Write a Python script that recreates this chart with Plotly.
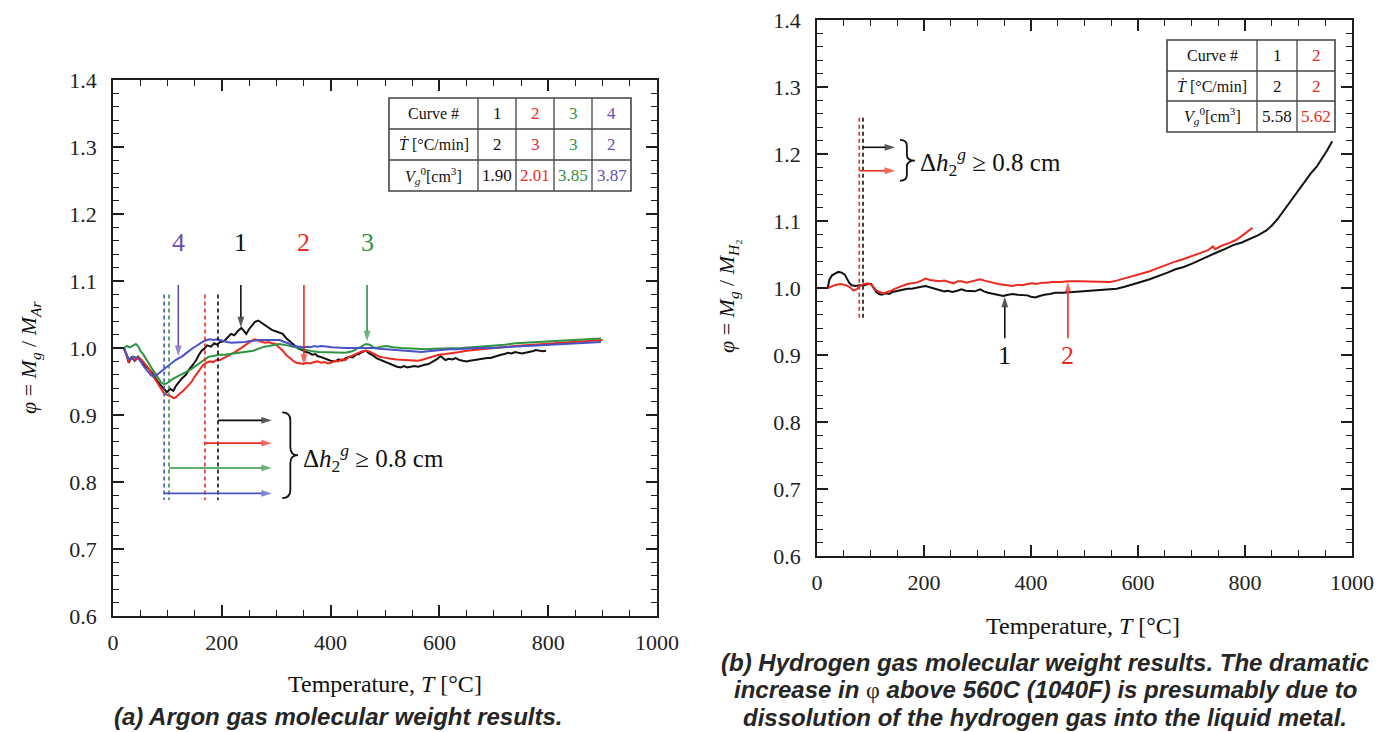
import plotly.graph_objects as go

# ---------------- data ----------------
# (a) Argon: temperature [°C] and molecular weight ratio phi for curves 1-4
ar1_T = [20, 24, 29, 34, 40, 46, 52, 58, 64, 71, 77, 83, 89, 94, 99, 105, 111, 116, 121, 127, 134, 140, 147,
         153, 158, 163, 168, 173, 180, 186, 191, 197, 204, 210, 217, 223, 229, 236, 241, 245, 250, 256, 261,
         267, 274, 280, 286, 292, 299, 305, 312, 318, 325, 331, 336, 341, 348, 354, 360, 366, 372, 376, 384,
         392, 400, 408, 415, 421, 428, 435, 441, 446, 452, 458, 465, 471, 478, 484, 490, 497, 503, 510, 516,
         522, 529, 535, 541, 548, 554, 561, 567, 573, 580, 586, 592, 597, 602, 606, 611, 617, 624, 630, 637,
         643, 650, 656, 663, 669, 675, 682, 688, 694, 701, 707, 713, 720, 726, 733, 739, 745, 752, 758, 765,
         771, 777, 784, 790, 796]
ar1_phi = [1.000, 0.992, 0.978, 0.986, 0.981, 0.987, 0.979, 0.975, 0.970, 0.964, 0.956, 0.949, 0.943, 0.938,
           0.934, 0.939, 0.936, 0.944, 0.949, 0.955, 0.960, 0.968, 0.975, 0.982, 0.990, 0.996, 0.999, 1.004,
           1.002, 1.007, 1.005, 1.009, 1.010, 1.015, 1.021, 1.019, 1.025, 1.030, 1.025, 1.021, 1.028, 1.034,
           1.039, 1.041, 1.037, 1.034, 1.030, 1.027, 1.025, 1.023, 1.021, 1.015, 1.010, 1.006, 1.002, 0.999,
           0.997, 0.994, 0.993, 0.990, 0.991, 0.988, 0.986, 0.983, 0.981, 0.980, 0.983, 0.981, 0.985, 0.987,
           0.986, 0.990, 0.991, 0.994, 0.996, 0.992, 0.989, 0.985, 0.983, 0.980, 0.978, 0.976, 0.974, 0.972,
           0.971, 0.973, 0.971, 0.972, 0.973, 0.972, 0.974, 0.975, 0.976, 0.979, 0.981, 0.984, 0.988, 0.985,
           0.982, 0.984, 0.983, 0.985, 0.982, 0.981, 0.980, 0.981, 0.982, 0.982, 0.983, 0.984, 0.985, 0.985,
           0.987, 0.989, 0.990, 0.991, 0.993, 0.992, 0.994, 0.993, 0.992, 0.993, 0.994, 0.995, 0.997, 0.996,
           0.995, 0.996]

ar2_T = [20, 24, 29, 35, 41, 47, 52, 58, 65, 71, 77, 83, 88, 93, 99, 106, 111, 115, 120, 125, 130, 136, 144,
         150, 156, 161, 166, 172, 178, 184, 190, 197, 204, 210, 217, 224, 232, 240, 249, 255, 261, 267, 274,
         280, 286, 292, 299, 305, 312, 318, 325, 331, 337, 344, 350, 356, 363, 369, 376, 382, 389, 395, 401,
         408, 414, 421, 427, 433, 440, 446, 452, 458, 465, 471, 478, 484, 490, 497, 503, 510, 522, 535, 548,
         560, 567, 580, 592, 599, 611, 624, 637, 650, 663, 675, 688, 701, 720, 739, 758, 777, 796, 815, 835,
         854, 873, 891, 900]
ar2_phi = [1.000, 0.990, 0.980, 0.985, 0.982, 0.986, 0.983, 0.977, 0.970, 0.962, 0.954, 0.946, 0.940, 0.933,
           0.930, 0.928, 0.925, 0.926, 0.930, 0.933, 0.937, 0.942, 0.949, 0.957, 0.964, 0.970, 0.975, 0.978,
           0.980, 0.979, 0.982, 0.982, 0.985, 0.988, 0.990, 0.994, 0.998, 1.003, 1.008, 1.011, 1.013, 1.011,
           1.009, 1.008, 1.009, 1.007, 1.006, 1.001, 0.996, 0.990, 0.985, 0.981, 0.978, 0.977, 0.976, 0.978,
           0.977, 0.979, 0.980, 0.978, 0.979, 0.977, 0.978, 0.981, 0.980, 0.983, 0.982, 0.986, 0.989, 0.991,
           0.993, 0.995, 0.996, 0.995, 0.992, 0.990, 0.987, 0.986, 0.985, 0.984, 0.983, 0.982, 0.982, 0.981,
           0.982, 0.985, 0.988, 0.990, 0.991, 0.992, 0.994, 0.996, 0.997, 0.998, 1.000, 1.001, 1.002, 1.003,
           1.004, 1.005, 1.006, 1.007, 1.008, 1.009, 1.010, 1.011, 1.012]

ar3_T = [20, 26, 31, 37, 42, 46, 51, 56, 61, 66, 71, 77, 83, 88, 93, 98, 104, 110, 117, 125, 134, 143, 152,
         160, 168, 176, 185, 195, 205, 215, 225, 236, 247, 258, 268, 278, 287, 296, 305, 314, 324, 334, 345,
         356, 367, 378, 390, 402, 414, 427, 440, 450, 458, 465, 472, 478, 484, 492, 503, 515, 530, 545, 560,
         575, 590, 605, 620, 640, 660, 680, 700, 720, 740, 760, 780, 800, 822, 845, 870, 897]
ar3_phi = [1.000, 1.003, 1.001, 1.004, 1.006, 1.003, 0.995, 0.990, 0.984, 0.977, 0.970, 0.962, 0.954, 0.949,
           0.946, 0.947, 0.950, 0.954, 0.957, 0.960, 0.964, 0.968, 0.973, 0.978, 0.983, 0.987, 0.988, 0.990,
           0.990, 0.991, 0.992, 0.993, 0.994, 0.996, 0.999, 1.002, 1.003, 1.005, 1.006, 1.005, 1.003, 1.001,
           0.999, 0.997, 0.995, 0.994, 0.994, 0.993, 0.993, 0.993, 0.995, 0.999, 1.003, 1.006, 1.005, 1.001,
           1.000, 1.002, 1.003, 1.001, 1.000, 0.999, 0.998, 0.998, 0.999, 0.999, 1.000, 1.000, 1.001, 1.002,
           1.003, 1.005, 1.007, 1.008, 1.009, 1.010, 1.011, 1.012, 1.013, 1.014]

ar4_T = [20, 25, 31, 37, 45, 51, 57, 63, 69, 74, 79, 84, 90, 96, 102, 108, 115, 121, 128, 134, 140, 147, 153,
         160, 166, 172, 178, 185, 191, 197, 204, 210, 217, 223, 230, 236, 243, 249, 256, 262, 268, 275, 281,
         287, 293, 299, 306, 312, 319, 325, 331, 338, 344, 350, 357, 363, 370, 376, 383, 389, 396, 402, 414,
         427, 440, 452, 465, 478, 490, 503, 516, 529, 541, 554, 567, 580, 592, 605, 618, 630, 650, 670, 694,
         720, 745, 770, 796, 822, 848, 873, 897]
ar4_phi = [1.000, 0.990, 0.982, 0.987, 0.985, 0.980, 0.972, 0.966, 0.960, 0.957, 0.959, 0.962, 0.966, 0.970,
           0.974, 0.978, 0.982, 0.985, 0.988, 0.992, 0.996, 1.000, 1.003, 1.007, 1.010, 1.012, 1.013, 1.012,
           1.013, 1.012, 1.010, 1.009, 1.008, 1.008, 1.009, 1.008, 1.009, 1.010, 1.010, 1.011, 1.012, 1.012,
           1.013, 1.013, 1.012, 1.013, 1.012, 1.010, 1.008, 1.006, 1.003, 1.002, 1.001, 1.001, 1.002, 1.001,
           1.003, 1.002, 1.003, 1.003, 1.002, 1.001, 1.000, 1.000, 1.000, 1.000, 1.001, 1.000, 0.999, 0.998,
           0.997, 0.996, 0.995, 0.995, 0.994, 0.995, 0.996, 0.997, 0.998, 0.998, 0.999, 1.000, 1.000, 1.001,
           1.003, 1.004, 1.005, 1.006, 1.007, 1.008, 1.009]

# (b) Hydrogen: curves 1-2
h1_T = [20, 23, 28, 34, 40, 46, 52, 56, 60, 65, 72, 80, 88, 95, 101, 106, 111, 116, 121, 128, 135, 141, 148,
        155, 162, 169, 177, 186, 195, 203, 212, 220, 230, 238, 245, 253, 262, 270, 278, 286, 295, 305, 312,
        320, 330, 339, 348, 357, 366, 375, 384, 393, 400, 408, 416, 425, 435, 445, 460, 475, 494, 510, 530,
        548, 560, 575, 590, 605, 622, 640, 655, 670, 684, 700, 716, 732, 747, 762, 778, 794, 809, 825, 840,
        850, 861, 871, 881, 892, 903, 913, 923, 934, 944, 954, 963]
h1_phi = [1.000, 1.012, 1.019, 1.022, 1.024, 1.023, 1.020, 1.014, 1.008, 1.004, 1.003, 1.004, 1.004, 1.006,
          1.006, 1.000, 0.994, 0.991, 0.990, 0.992, 0.991, 0.994, 0.995, 0.996, 0.997, 0.999, 0.999, 1.001,
          1.002, 1.003, 1.001, 0.999, 0.997, 0.995, 0.996, 0.994, 0.996, 0.998, 0.996, 0.996, 0.995, 0.998,
          0.995, 0.993, 0.991, 0.990, 0.988, 0.990, 0.991, 0.990, 0.989, 0.989, 0.987, 0.986, 0.988, 0.990,
          0.991, 0.993, 0.993, 0.994, 0.995, 0.996, 0.997, 0.998, 0.999, 1.002, 1.005, 1.009, 1.013, 1.018,
          1.023, 1.028, 1.031, 1.036, 1.042, 1.048, 1.053, 1.058, 1.064, 1.068, 1.073, 1.079, 1.086, 1.093,
          1.103, 1.114, 1.125, 1.137, 1.148, 1.160, 1.171, 1.181, 1.193, 1.206, 1.219]

h2_T = [20, 28, 36, 45, 55, 62, 68, 74, 80, 88, 96, 103, 110, 117, 124, 131, 139, 146, 153, 161, 169, 177,
        186, 195, 203, 211, 220, 229, 238, 247, 255, 263, 270, 279, 288, 297, 305, 313, 322, 331, 339, 348,
        357, 366, 375, 384, 393, 402, 410, 420, 430, 440, 455, 470, 490, 510, 530, 548, 560, 573, 590, 605,
        622, 638, 653, 668, 684, 700, 716, 730, 736, 740, 744, 756, 770, 784, 798, 806, 814]
h2_phi = [1.000, 1.003, 1.005, 1.006, 1.004, 1.001, 0.996, 0.998, 1.003, 1.006, 1.007, 1.004, 0.997, 0.994,
          0.992, 0.994, 0.996, 0.999, 1.001, 1.004, 1.006, 1.007, 1.008, 1.011, 1.014, 1.012, 1.011, 1.010,
          1.011, 1.009, 1.007, 1.010, 1.010, 1.008, 1.010, 1.011, 1.013, 1.011, 1.009, 1.007, 1.006, 1.005,
          1.004, 1.003, 1.005, 1.004, 1.006, 1.007, 1.006, 1.008, 1.008, 1.009, 1.009, 1.010, 1.010, 1.010,
          1.009, 1.009, 1.011, 1.014, 1.017, 1.021, 1.025, 1.030, 1.035, 1.039, 1.043, 1.047, 1.052, 1.056,
          1.060, 1.062, 1.058, 1.063, 1.067, 1.072, 1.080, 1.085, 1.090]

# Test conditions shown in the tables
ar_curve_ids = ["1", "2", "3", "4"]
ar_heating_rates = ["2", "3", "3", "2"]
ar_gas_volumes = ["1.90", "2.01", "3.85", "3.87"]
h_curve_ids = ["1", "2"]
h_heating_rates = ["2", "2"]
h_gas_volumes = ["5.58", "5.62"]

# Temperatures where the gas column head first reaches 0.8 cm
ar_onset_T = [193, 169, 103, 94]
h_onset_T = [86, 79]

x_ticks = [0, 200, 400, 600, 800, 1000]
y_ticks = [0.6, 0.7, 0.8, 0.9, 1.0, 1.1, 1.2, 1.3, 1.4]

# ---------------- styling ----------------
W, H = 1393, 732
BLACK = "#111111"
RED = "#ec2a20"
GREEN = "#2f9440"
BLUE = "#4a52c4"
PURPLE = "#6650b4"
SERIF = "Liberation Serif"
AXC = "#1e1e1e"


def px(x):
    return x / W


def py(y):
    return 1 - y / H


fig = go.Figure()

for T, phi, c in [(ar1_T, ar1_phi, BLACK), (ar2_T, ar2_phi, RED), (ar3_T, ar3_phi, GREEN), (ar4_T, ar4_phi, BLUE)]:
    fig.add_trace(go.Scatter(x=T, y=phi, mode="lines", line=dict(color=c, width=2), xaxis="x", yaxis="y",
                             showlegend=False, hoverinfo="skip"))
for T, phi, c in [(h1_T, h1_phi, BLACK), (h2_T, h2_phi, RED)]:
    fig.add_trace(go.Scatter(x=T, y=phi, mode="lines", line=dict(color=c, width=2), xaxis="x2", yaxis="y2",
                             showlegend=False, hoverinfo="skip"))

ar_colors = [BLACK, RED, GREEN, BLUE]
h_colors = [BLACK, RED]

# dashed onset markers
for T0, c in zip(ar_onset_T, ar_colors):
    fig.add_trace(go.Scatter(x=[T0, T0], y=[1.080, 0.773], mode="lines", xaxis="x", yaxis="y",
                             line=dict(color=c, width=1.6, dash="4px,3px"), showlegend=False, hoverinfo="skip"))
for T0, c in zip(h_onset_T, h_colors):
    fig.add_trace(go.Scatter(x=[T0, T0], y=[1.254, 0.952], mode="lines", xaxis="x2", yaxis="y2",
                             line=dict(color=c, width=1.6, dash="4px,3px"), showlegend=False, hoverinfo="skip"))

annotations = []
shapes = []


def arrow(x0, y0, x1, y1, color, xa, ya, width=1.6):
    # straight line ending in a filled arrowhead that follows the line direction
    fig.add_trace(go.Scatter(x=[x0, x1], y=[y0, y1], mode="lines+markers", xaxis=xa, yaxis=ya,
                             line=dict(color=color, width=width),
                             marker=dict(symbol="arrow", size=[0, 11], angleref="previous", color=color,
                                         line=dict(width=0)),
                             showlegend=False, hoverinfo="skip"))


# horizontal onset arrows
for T0, c, yv in zip(ar_onset_T, ar_colors, [0.892, 0.858, 0.821, 0.783]):
    arrow(T0, yv, 292, yv, c, "x", "y")
for T0, c, yv in zip(h_onset_T, h_colors, [1.210, 1.175]):
    arrow(T0, yv, 146, yv, c, "x2", "y2")

# braces
shapes.append(dict(type="path", xref="x", yref="y",
                   path="M 311,0.904 Q 326,0.904 326,0.892 L 326,0.852 Q 326,0.840 340,0.840 "
                        "Q 326,0.840 326,0.828 L 326,0.788 Q 326,0.776 311,0.776",
                   line=dict(color=BLACK, width=1.8)))
shapes.append(dict(type="path", xref="x2", yref="y2",
                   path="M 155,1.221 Q 168,1.221 168,1.212 L 168,1.199 Q 168,1.190 183,1.190 "
                        "Q 168,1.190 168,1.181 L 168,1.169 Q 168,1.160 155,1.160",
                   line=dict(color=BLACK, width=1.8)))

dh_text = "Δ<i>h</i><sub>2</sub><sup><i>g</i></sup> ≥ 0.8 cm"
annotations.append(dict(x=345, y=0.836, xref="x", yref="y", text=dh_text, showarrow=False, xanchor="left",
                        font=dict(family=SERIF, size=25, color=BLACK)))
annotations.append(dict(x=189, y=1.188, xref="x2", yref="y2", text=dh_text, showarrow=False, xanchor="left",
                        font=dict(family=SERIF, size=25, color=BLACK)))

# curve labels with pointer arrows, panel (a)
for lab, T0, tip, c in [("4", 120, 0.988, PURPLE), ("1", 235, 1.031, BLACK), ("2", 351, 0.975, RED),
                        ("3", 467, 1.010, GREEN)]:
    arrow(T0, 1.094, T0, tip, c, "x", "y")
    annotations.append(dict(x=T0, y=1.158, xref="x", yref="y", text=lab, showarrow=False,
                            xanchor="center", font=dict(family=SERIF, size=26, color=c)))
# panel (b)
for lab, T0, tip, c in [("1", 351, 0.987, BLACK), ("2", 469, 1.009, RED)]:
    arrow(T0, 0.925, T0, tip, c, "x2", "y2")
    annotations.append(dict(x=T0, y=0.900, xref="x2", yref="y2", text=lab, showarrow=False,
                            xanchor="center", font=dict(family=SERIF, size=26, color=c)))


def label(x, y, text, font, **kw):
    annotations.append(dict(x=px(x), y=py(y), xref="paper", yref="paper", text=text, showarrow=False,
                            xanchor="center", yanchor="middle", font=font, **kw))


# condition tables
def table(col_edges, row_edges, ids, rates, vols, colors):
    x0, x1 = col_edges[0], col_edges[-1]
    y0, y1 = row_edges[0], row_edges[-1]
    shapes.append(dict(type="rect", xref="paper", yref="paper", x0=px(x0), x1=px(x1), y0=py(y0), y1=py(y1),
                       line=dict(color="#444", width=1.6)))
    for xe in col_edges[1:-1]:
        shapes.append(dict(type="line", xref="paper", yref="paper", x0=px(xe), x1=px(xe), y0=py(y0), y1=py(y1),
                           line=dict(color="#444", width=1.3)))
    for ye in row_edges[1:-1]:
        shapes.append(dict(type="line", xref="paper", yref="paper", x0=px(x0), x1=px(x1), y0=py(ye), y1=py(ye),
                           line=dict(color="#444", width=1.3)))
    heads = ["Curve #", "<i>Ṫ</i> [°C/min]", "<i>V</i><sub><i>g</i></sub><sup>0</sup>[cm<sup>3</sup>]"]
    rows = [ids, rates, vols]
    for r in range(3):
        yc = (row_edges[r] + row_edges[r + 1]) / 2
        label((col_edges[0] + col_edges[1]) / 2, yc, heads[r], dict(family=SERIF, size=16, color=BLACK))
        for c in range(len(ids)):
            label((col_edges[c + 1] + col_edges[c + 2]) / 2, yc, rows[r][c],
                  dict(family=SERIF, size=17, color=colors[c]))


table([389, 478, 516, 554, 592, 631], [98, 129, 160, 191], ar_curve_ids, ar_heating_rates, ar_gas_volumes,
      [BLACK, RED, GREEN, PURPLE])
table([1167, 1257, 1297, 1335], [40, 71, 101, 132], h_curve_ids, h_heating_rates, h_gas_volumes, h_colors)

# axis titles
xt = "Temperature, <i>T</i> [°C]"
title_font = dict(family=SERIF, size=24, color=BLACK)
label(385, 684, xt, title_font)
label(1083, 626, xt, title_font)
ytitle_font = dict(family=SERIF, size=22, color=BLACK)
label(30, 358, "<i>φ</i> = <i>M</i><sub><i>g</i></sub> / <i>M</i><sub><i>Ar</i></sub>", ytitle_font,
      textangle=-90)
label(728, 296, "<i>φ</i> = <i>M</i><sub><i>g</i></sub> / <i>M</i><sub><i>H</i>₂</sub>", ytitle_font,
      textangle=-90)

# captions
cap_font = dict(family="Liberation Sans", size=24, color="#262626", weight="bold", style="italic")
label(338, 716, "(a) Argon gas molecular weight results.", cap_font)
cap_b = ["(b) Hydrogen gas molecular weight results. The dramatic",
         "increase in <span style=\"font-family:Liberation Serif;font-weight:normal;font-style:normal\">φ</span>"
         " above 560C (1040F) is presumably due to",
         "dissolution of the hydrogen gas into the liquid metal."]
for i, line in enumerate(cap_b):
    label(1045, 662 + 27.5 * i, line, cap_font)

# framed axes with inward major/minor ticks on all four sides
axis_common = dict(showline=True, linecolor=AXC, linewidth=1.6, mirror="allticks", ticks="inside", ticklen=11,
                   tickwidth=1.6, tickcolor=AXC, showgrid=False, zeroline=False, automargin=False,
                   layer="above traces", tickfont=dict(family=SERIF, size=22, color="#222"))
xax = dict(axis_common, range=[0, 1000], tickvals=x_ticks, ticklabelstandoff=6,
           minor=dict(ticks="inside", dtick=50, ticklen=6, tickcolor=AXC, tickwidth=1.4, showgrid=False))
yax = dict(axis_common, range=[0.6, 1.4], tickvals=y_ticks, tickformat=".1f", ticklabelstandoff=10,
           minor=dict(ticks="inside", dtick=0.02, ticklen=6, tickcolor=AXC, tickwidth=1.4, showgrid=False))

fig.update_layout(
    width=W, height=H, margin=dict(l=0, r=0, t=0, b=0, autoexpand=False),
    plot_bgcolor="white", paper_bgcolor="white",
    xaxis=dict(xax, domain=[px(113), px(657)], anchor="y"),
    yaxis=dict(yax, domain=[py(616), py(80)], anchor="x"),
    xaxis2=dict(xax, domain=[px(817), px(1352)], anchor="y2"),
    yaxis2=dict(yax, domain=[py(556), py(20)], anchor="x2"),
    annotations=annotations, shapes=shapes, showlegend=False,
)

fig.write_html("out.html")
